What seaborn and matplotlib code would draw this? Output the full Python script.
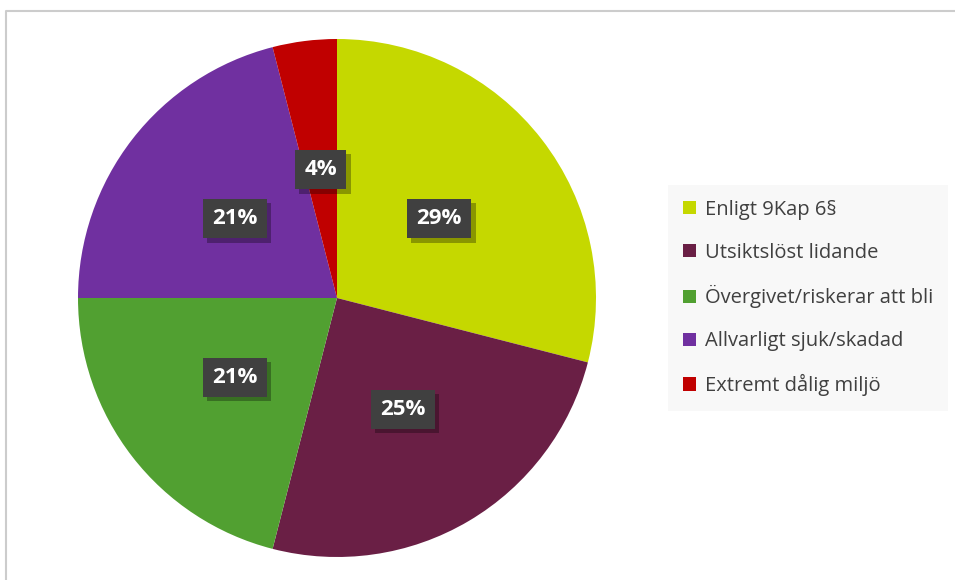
import matplotlib
matplotlib.use("Agg")
import matplotlib.pyplot as plt
import matplotlib.patheffects as pe
from matplotlib.lines import Line2D
import seaborn as sns

# Slice data (clockwise from 12 o'clock)
categories = ["Enligt 9Kap 6§", "Utsiktslöst lidande", "Övergivet/riskerar att bli",
              "Allvarligt sjuk/skadad", "Extremt dålig miljö"]
shares = [29, 25, 21, 21, 4]
colors = ["#c5d800", "#6a1f45", "#51a031", "#7030a0", "#c00000"]

sns.set_theme(style="white")
plt.rcParams['font.family'] = ['Open Sans', 'DejaVu Sans']

fig = plt.figure(figsize=(9.55, 5.8), dpi=100)
fig.patch.set_facecolor("white")

# Chart border: only top and left edges are visible
fig.add_artist(Line2D([6 / 955, 6 / 955, 1], [0, 569 / 580, 569 / 580],
                      transform=fig.transFigure, color="#cccccc", linewidth=1.5))

ax = fig.add_axes([78 / 955, 23 / 580, 518 / 955, 518 / 580])
wedges, texts, autotexts = ax.pie(
    shares, colors=colors, startangle=90, counterclock=False,
    autopct="%d%%", pctdistance=0.5, radius=1,
    wedgeprops=dict(linewidth=0),
    textprops=dict(color="white", fontsize=16, fontweight="bold"))
ax.set_xlim(-1, 1)
ax.set_ylim(-1, 1)

for t in autotexts:
    t.set_bbox(dict(boxstyle="square,pad=0.42", facecolor="#404040", edgecolor="none"))
    t.get_bbox_patch().set_path_effects([
        pe.SimplePatchShadow(offset=(3, -3), shadow_rgbFace="black", alpha=0.3),
        pe.Normal()])

leg = ax.legend(wedges, categories, loc="center left",
                bbox_to_anchor=(668 / 955, (580 - 298) / 580), bbox_transform=fig.transFigure,
                fontsize=14.5, frameon=True, fancybox=False, labelspacing=1.13,
                handlelength=0.62, handleheight=0.62, handletextpad=0.45,
                borderpad=0.75, borderaxespad=0)
leg.get_frame().set_facecolor("#f7f7f7")
leg.get_frame().set_edgecolor("none")
for t in leg.get_texts():
    t.set_color("#404040")

fig.savefig("out.png", dpi=100)
